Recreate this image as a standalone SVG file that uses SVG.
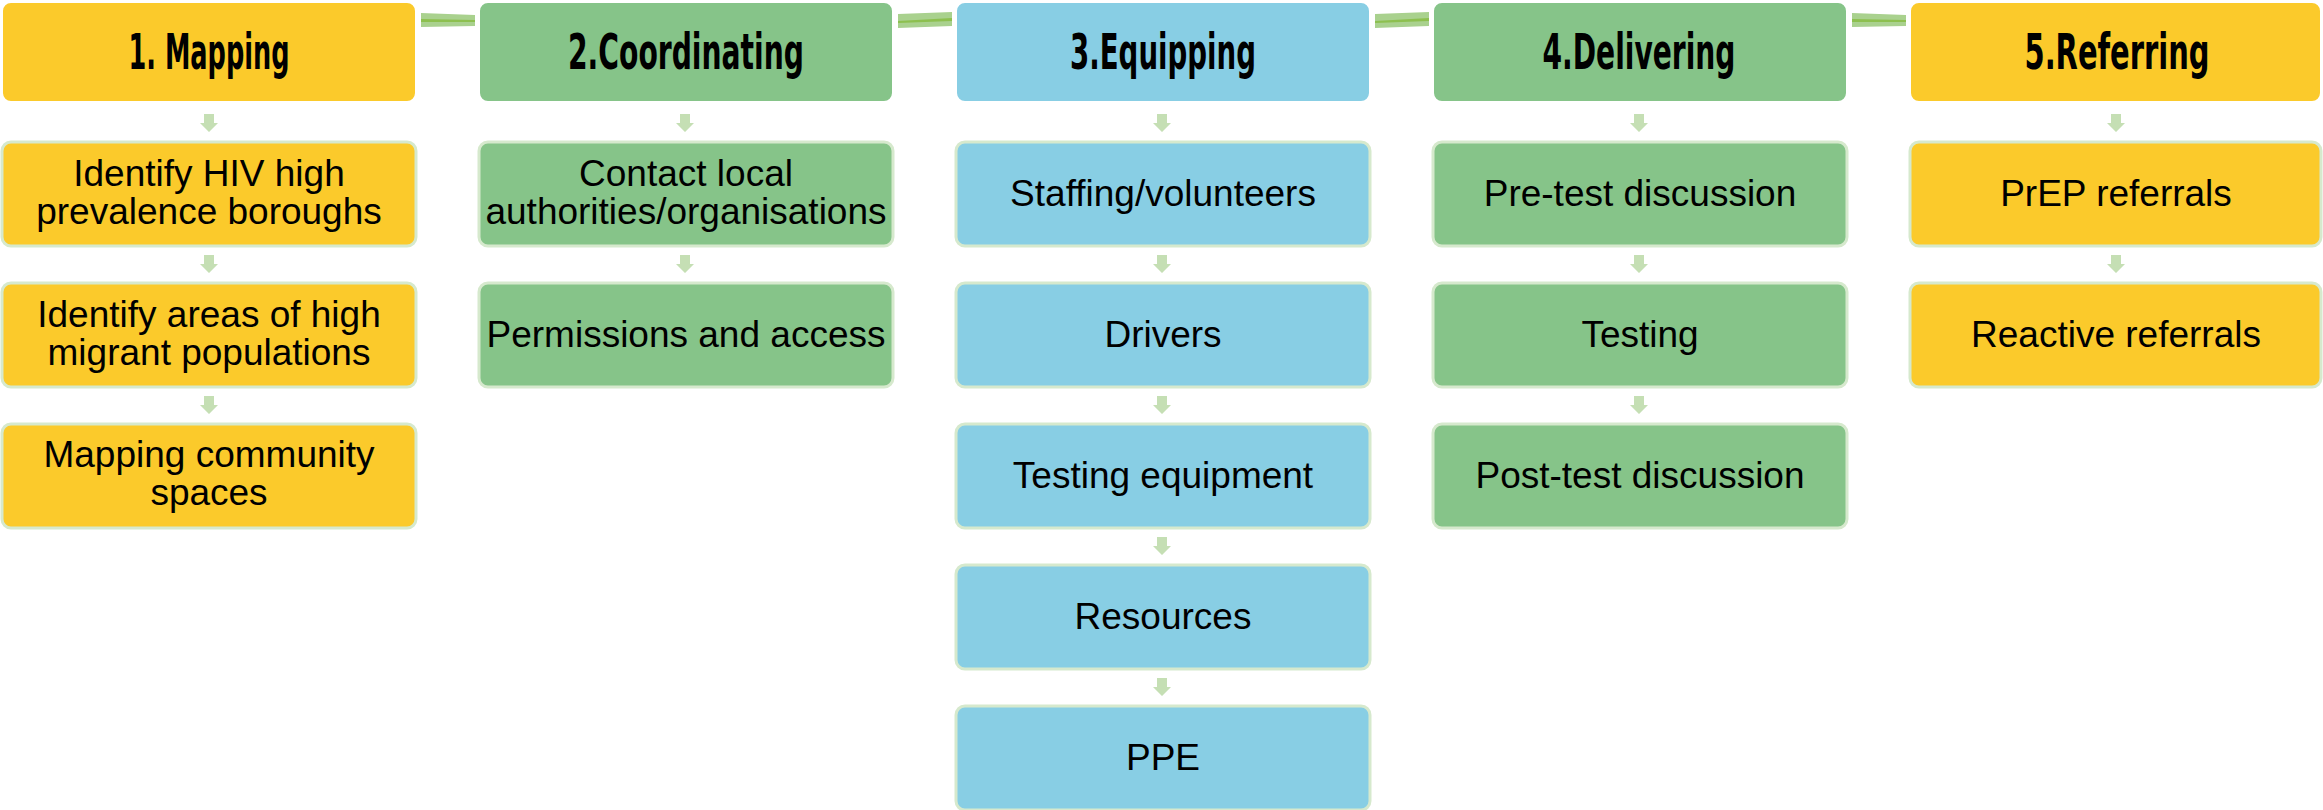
<svg xmlns="http://www.w3.org/2000/svg" width="2323" height="810" viewBox="0 0 2323 810">
<defs>
<style>
.hy{fill:#FBCA2B;stroke:#FFFFFF;stroke-width:2}
.hg{fill:#86C489;stroke:#FFFFFF;stroke-width:2}
.hb{fill:#88CEE4;stroke:#FFFFFF;stroke-width:2}
.sy{fill:#FBCA2B;stroke:#D6E9CD;stroke-width:3}
.sg{fill:#86C489;stroke:#D6E9CD;stroke-width:3}
.sb{fill:#88CEE4;stroke:#D6E9CD;stroke-width:3}
.ht{font-family:"DejaVu Sans Condensed","DejaVu Sans",sans-serif;font-weight:bold;font-size:50px;fill:#000;text-anchor:middle}
.bt{font-family:"Liberation Sans",Arial,sans-serif;font-size:37px;fill:#000;text-anchor:middle}
.ar{fill:#C5DFB4}
.cl{fill:#A9D18E}
.cd{fill:#8DC04F}
</style>
<path id="dn" class="ar" d="M-5,0 H5 V9 H9 L0,18 L-9,9 H-5 Z"/>
</defs>

<g id="connectors">
<polygon class="cl" points="421,13 475,15 475,26 421,27"/>
<polygon class="cd" points="421,19 475,20 475,22 421,22"/>
<polygon class="cl" points="898,14 952,12 952,26 898,28"/>
<polygon class="cd" points="898,21 952,18 952,21 898,23"/>
<polygon class="cl" points="1375,14 1429,12 1429,26 1375,28"/>
<polygon class="cd" points="1375,21 1429,18 1429,21 1375,23"/>
<polygon class="cl" points="1852,13 1906,15 1906,26 1852,27"/>
<polygon class="cd" points="1852,19 1906,20 1906,22 1852,22"/>
<use href="#dn" x="209" y="114"/>
<use href="#dn" x="209" y="255"/>
<use href="#dn" x="209" y="396"/>
<use href="#dn" x="685" y="114"/>
<use href="#dn" x="685" y="255"/>
<use href="#dn" x="1162" y="114"/>
<use href="#dn" x="1162" y="255"/>
<use href="#dn" x="1162" y="396"/>
<use href="#dn" x="1162" y="537"/>
<use href="#dn" x="1162" y="678"/>
<use href="#dn" x="1639" y="114"/>
<use href="#dn" x="1639" y="255"/>
<use href="#dn" x="1639" y="396"/>
<use href="#dn" x="2116" y="114"/>
<use href="#dn" x="2116" y="255"/>
</g>

<g id="h1"><rect class="hy" x="2" y="2" width="414" height="100" rx="9"/><text class="ht" x="209" y="69" textLength="161" lengthAdjust="spacingAndGlyphs">1. Mapping</text></g>
<g id="h2"><rect class="hg" x="479" y="2" width="414" height="100" rx="9"/><text class="ht" x="686" y="69" textLength="236" lengthAdjust="spacingAndGlyphs">2.Coordinating</text></g>
<g id="h3"><rect class="hb" x="956" y="2" width="414" height="100" rx="9"/><text class="ht" x="1163" y="69" textLength="186" lengthAdjust="spacingAndGlyphs">3.Equipping</text></g>
<g id="h4"><rect class="hg" x="1433" y="2" width="414" height="100" rx="9"/><text class="ht" x="1639" y="69" textLength="193" lengthAdjust="spacingAndGlyphs">4.Delivering</text></g>
<g id="h5"><rect class="hy" x="1910" y="2" width="411" height="100" rx="9"/><text class="ht" x="2117" y="69" textLength="185" lengthAdjust="spacingAndGlyphs">5.Referring</text></g>

<g id="n1a"><rect class="sy" x="2" y="142" width="414" height="104" rx="9"/><text class="bt" x="209" y="186">Identify HIV high</text><text class="bt" x="209" y="224">prevalence boroughs</text></g>
<g id="n1b"><rect class="sy" x="2" y="283" width="414" height="104" rx="9"/><text class="bt" x="209" y="327">Identify areas of high</text><text class="bt" x="209" y="365">migrant populations</text></g>
<g id="n1c"><rect class="sy" x="2" y="424" width="414" height="104" rx="9"/><text class="bt" x="209" y="467">Mapping community</text><text class="bt" x="209" y="505">spaces</text></g>

<g id="n2a"><rect class="sg" x="479" y="142" width="414" height="104" rx="9"/><text class="bt" x="686" y="186">Contact local</text><text class="bt" x="686" y="224">authorities/organisations</text></g>
<g id="n2b"><rect class="sg" x="479" y="283" width="414" height="104" rx="9"/><text class="bt" x="686" y="347">Permissions and access</text></g>

<g id="n3a"><rect class="sb" x="956" y="142" width="414" height="104" rx="9"/><text class="bt" x="1163" y="206">Staffing/volunteers</text></g>
<g id="n3b"><rect class="sb" x="956" y="283" width="414" height="104" rx="9"/><text class="bt" x="1163" y="347">Drivers</text></g>
<g id="n3c"><rect class="sb" x="956" y="424" width="414" height="104" rx="9"/><text class="bt" x="1163" y="488">Testing equipment</text></g>
<g id="n3d"><rect class="sb" x="956" y="565" width="414" height="104" rx="9"/><text class="bt" x="1163" y="629">Resources</text></g>
<g id="n3e"><rect class="sb" x="956" y="706" width="414" height="104" rx="9"/><text class="bt" x="1163" y="770">PPE</text></g>

<g id="n4a"><rect class="sg" x="1433" y="142" width="414" height="104" rx="9"/><text class="bt" x="1640" y="206">Pre-test discussion</text></g>
<g id="n4b"><rect class="sg" x="1433" y="283" width="414" height="104" rx="9"/><text class="bt" x="1640" y="347">Testing</text></g>
<g id="n4c"><rect class="sg" x="1433" y="424" width="414" height="104" rx="9"/><text class="bt" x="1640" y="488">Post-test discussion</text></g>

<g id="n5a"><rect class="sy" x="1910" y="142" width="411" height="104" rx="9"/><text class="bt" x="2116" y="206">PrEP referrals</text></g>
<g id="n5b"><rect class="sy" x="1910" y="283" width="411" height="104" rx="9"/><text class="bt" x="2116" y="347">Reactive referrals</text></g>
</svg>
